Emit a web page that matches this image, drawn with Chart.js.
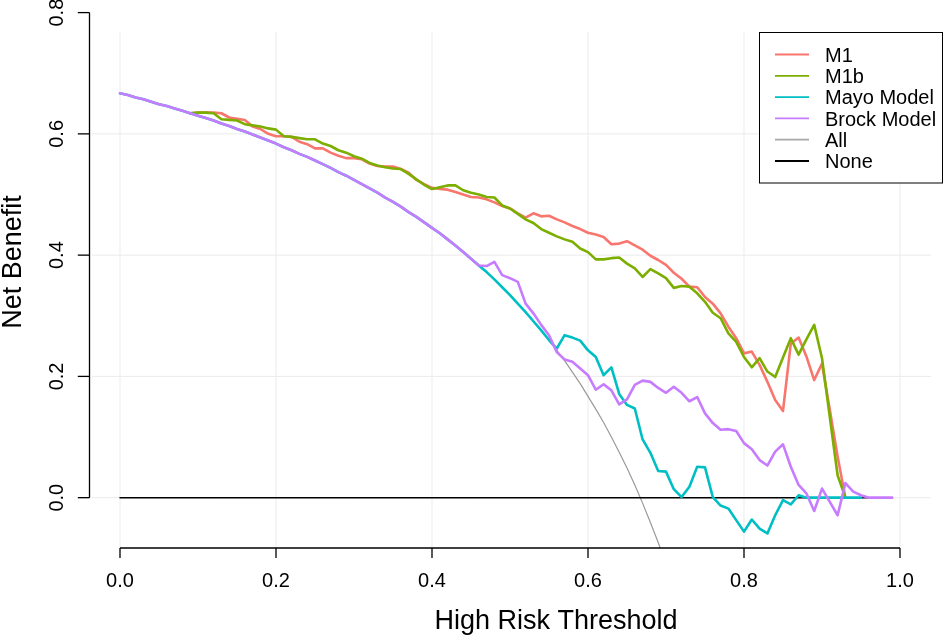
<!DOCTYPE html>
<html>
<head>
<meta charset="utf-8">
<style>
  html, body { margin: 0; padding: 0; background: #fff; }
  #wrap { width: 945px; height: 636px; }
</style>
</head>
<body>
<div id="wrap"><canvas id="dca" width="945" height="636"></canvas></div>
<script src="https://cdn.jsdelivr.net/npm/chart.js@4/dist/chart.umd.min.js"></script>
<script>
// thresholds (x) every 0.01
const thresholds = [
  0.00,0.01,0.02,0.03,0.04,0.05,0.06,0.07,0.08,0.09,
  0.10,0.11,0.12,0.13,0.14,0.15,0.16,0.17,0.18,0.19,
  0.20,0.21,0.22,0.23,0.24,0.25,0.26,0.27,0.28,0.29,
  0.30,0.31,0.32,0.33,0.34,0.35,0.36,0.37,0.38,0.39,
  0.40,0.41,0.42,0.43,0.44,0.45,0.46,0.47,0.48,0.49,
  0.50,0.51,0.52,0.53,0.54,0.55,0.56,0.57,0.58,0.59,
  0.60,0.61,0.62,0.63,0.64,0.65,0.66,0.67,0.68,0.69,
  0.70,0.71,0.72,0.73,0.74,0.75,0.76,0.77,0.78,0.79,
  0.80,0.81,0.82,0.83,0.84,0.85,0.86,0.87,0.88,0.89,
  0.90,0.91,0.92,0.93,0.94,0.95,0.96,0.97,0.98,0.99
];

const m1 = [
  null,null,null,null,null,null,null,null,null,0.634,
  0.635,0.635,0.635,0.634,0.627,0.625,0.623,0.612,0.608,0.600,
  0.596,0.596,0.595,0.587,0.583,0.576,0.576,0.569,0.564,0.560,
  0.560,0.558,0.551,0.547,0.546,0.546,0.542,0.536,0.524,0.517,
  0.511,0.509,0.508,0.504,0.500,0.496,0.495,0.492,0.487,0.481,
  0.477,0.469,0.462,0.469,0.464,0.465,0.459,0.454,0.448,0.443,
  0.437,0.434,0.430,0.418,0.419,0.423,0.416,0.409,0.399,0.392,
  0.384,0.371,0.361,0.348,0.347,0.331,0.320,0.304,0.282,0.263,
  0.238,0.241,0.219,0.191,0.161,0.143,0.254,0.264,0.233,0.194,
  0.221,0.145,0.068,0.000,null,null,null,null,null,null
];

const m1b = [
  null,null,null,null,null,null,null,null,null,0.634,
  0.635,0.635,0.634,0.624,0.623,0.622,0.616,0.614,0.612,0.609,
  0.607,0.596,0.595,0.593,0.591,0.591,0.584,0.580,0.573,0.569,
  0.563,0.559,0.552,0.548,0.545,0.543,0.542,0.534,0.525,0.516,
  0.509,0.512,0.515,0.515,0.507,0.503,0.500,0.496,0.495,0.482,
  0.477,0.468,0.459,0.453,0.443,0.437,0.431,0.426,0.422,0.411,
  0.405,0.393,0.393,0.395,0.396,0.386,0.378,0.364,0.377,0.370,
  0.362,0.346,0.349,0.348,0.337,0.323,0.305,0.296,0.271,0.257,
  0.232,0.215,0.230,0.208,0.199,0.231,0.263,0.236,0.261,0.285,
  0.230,0.133,0.037,0.000,null,null,null,null,null,null
];

const mayo = [
  0.667,0.664,0.660,0.657,0.653,0.649,0.646,0.642,0.638,0.634,
  0.630,0.626,0.622,0.617,0.613,0.608,0.604,0.599,0.594,0.589,
  0.584,0.578,0.573,0.567,0.562,0.556,0.550,0.544,0.537,0.531,
  0.524,0.517,0.510,0.503,0.495,0.488,0.480,0.471,0.463,0.454,
  0.445,0.436,0.426,0.416,0.405,0.394,0.383,0.372,0.360,0.347,
  0.334,0.320,0.306,0.291,0.276,0.260,0.246,0.268,0.264,0.259,
  0.243,0.232,0.202,0.215,0.171,0.153,0.147,0.096,0.074,0.044,
  0.043,0.014,0.001,0.018,0.051,0.050,0.001,-0.013,-0.018,-0.037,
  -0.056,-0.036,-0.051,-0.059,-0.029,-0.004,-0.011,0.004,0.000,0.000,
  0.000,0.000,0.000,0.000,0.000,0.000,null,null,null,null
];

const brock = [
  0.667,0.664,0.660,0.657,0.653,0.649,0.646,0.642,0.638,0.634,
  0.630,0.626,0.622,0.617,0.613,0.608,0.604,0.599,0.594,0.589,
  0.584,0.578,0.573,0.567,0.562,0.556,0.550,0.544,0.537,0.531,
  0.524,0.517,0.510,0.503,0.495,0.488,0.480,0.471,0.463,0.454,
  0.445,0.436,0.426,0.416,0.405,0.394,0.383,0.382,0.389,0.367,
  0.362,0.356,0.320,0.304,0.285,0.268,0.240,0.228,0.224,0.213,
  0.202,0.178,0.187,0.177,0.154,0.162,0.186,0.193,0.191,0.181,
  0.173,0.183,0.173,0.159,0.166,0.139,0.123,0.112,0.113,0.110,
  0.090,0.080,0.062,0.053,0.076,0.088,0.051,0.021,0.007,-0.022,
  0.015,-0.007,-0.029,0.024,0.010,0.004,0.000,0.000,0.000,0.000
];

const treatAll = [
  0.667,0.664,0.660,0.657,0.653,0.649,0.646,0.642,0.638,0.634,
  0.630,0.626,0.622,0.617,0.613,0.608,0.604,0.599,0.594,0.589,
  0.584,0.578,0.573,0.567,0.562,0.556,0.550,0.544,0.537,0.531,
  0.524,0.517,0.510,0.503,0.495,0.488,0.480,0.471,0.463,0.454,
  0.445,0.436,0.426,0.416,0.405,0.394,0.383,0.372,0.360,0.347,
  0.334,0.320,0.306,0.291,0.276,0.260,0.243,0.226,0.207,0.188,
  0.167,0.146,0.124,0.100,0.075,0.049,0.021,-0.009,-0.041,-0.074,
  -0.110,null,null,null,null,null,null,null,null,null,
  null,null,null,null,null,null,null,null,null,null,
  null,null,null,null,null,null,null,null,null,null
];

const treatNone = [
  0,0,0,0,0,0,0,0,0,0, 0,0,0,0,0,0,0,0,0,0,
  0,0,0,0,0,0,0,0,0,0, 0,0,0,0,0,0,0,0,0,0,
  0,0,0,0,0,0,0,0,0,0, 0,0,0,0,0,0,0,0,0,0,
  0,0,0,0,0,0,0,0,0,0, 0,0,0,0,0,0,0,0,0,0,
  0,0,0,0,0,0,0,0,0,0, 0,0,0,0,0,0,0,0,0,0
];

const xTicks = [0.0, 0.2, 0.4, 0.6, 0.8, 1.0];
const yTicks = [0.0, 0.2, 0.4, 0.6, 0.8];
const legendNames = ['M1', 'M1b', 'Mayo Model', 'Brock Model', 'All', 'None'];
const legendColors = ['#F8766D', '#7CAE00', '#00BFC4', '#C77CFF', '#A8A8A8', '#000000'];

function pts(vals) {
  return thresholds.map((t, i) => ({ x: t, y: vals[i] }));
}

const FONT = "'Liberation Sans', Arial, Helvetica, sans-serif";

// base-R style frame: grid, axes, labels, legend
const rPlot = {
  id: 'rPlot',
  beforeDatasetsDraw(chart) {
    const { ctx, chartArea: a, scales: { x, y } } = chart;
    ctx.save();
    ctx.strokeStyle = '#EBEBEB';
    ctx.lineWidth = 1;
    xTicks.forEach(v => {
      const px = x.getPixelForValue(v);
      ctx.beginPath(); ctx.moveTo(px, a.top); ctx.lineTo(px, a.bottom); ctx.stroke();
    });
    yTicks.forEach(v => {
      const py = y.getPixelForValue(v);
      if (py < a.top) return;
      ctx.beginPath(); ctx.moveTo(a.left + 3, py); ctx.lineTo(a.right, py); ctx.stroke();
    });
    ctx.restore();
  },
  afterDraw(chart) {
    const { ctx, chartArea: a, scales: { x, y } } = chart;
    ctx.save();
    ctx.strokeStyle = '#000';
    ctx.fillStyle = '#000';
    ctx.lineWidth = 1.3;

    // x axis
    const x0 = x.getPixelForValue(xTicks[0]);
    const x1 = x.getPixelForValue(xTicks[xTicks.length - 1]);
    ctx.beginPath(); ctx.moveTo(x0, a.bottom); ctx.lineTo(x1, a.bottom); ctx.stroke();
    ctx.font = '20px ' + FONT;
    ctx.textAlign = 'center';
    ctx.textBaseline = 'alphabetic';
    xTicks.forEach(v => {
      const px = x.getPixelForValue(v);
      ctx.beginPath(); ctx.moveTo(px, a.bottom); ctx.lineTo(px, a.bottom + 10); ctx.stroke();
      ctx.fillText(v.toFixed(1), px, 587);
    });

    // y axis
    const y0 = y.getPixelForValue(yTicks[0]);
    const y1 = y.getPixelForValue(yTicks[yTicks.length - 1]);
    ctx.beginPath(); ctx.moveTo(a.left + 0.7, y0); ctx.lineTo(a.left + 0.7, y1); ctx.stroke();
    yTicks.forEach(v => {
      const py = y.getPixelForValue(v);
      ctx.beginPath(); ctx.moveTo(a.left + 0.7, py); ctx.lineTo(a.left - 11, py); ctx.stroke();
      ctx.save();
      ctx.translate(62.5, py);
      ctx.rotate(-Math.PI / 2);
      ctx.fillText(v.toFixed(1), 0, 0);
      ctx.restore();
    });

    // axis titles
    ctx.font = '27px ' + FONT;
    ctx.fillText('High Risk Threshold', 556, 629);
    ctx.save();
    ctx.translate(21, 262);
    ctx.rotate(-Math.PI / 2);
    ctx.fillText('Net Benefit', 0, 0);
    ctx.restore();

    // legend
    const bx = 759.5, by = 32.5, bw = 183, bh = 150.5;
    ctx.fillStyle = '#fff';
    ctx.fillRect(bx, by, bw, bh);
    ctx.lineWidth = 1;
    ctx.strokeStyle = '#000';
    ctx.strokeRect(bx, by, bw, bh);
    ctx.font = '20px ' + FONT;
    ctx.textAlign = 'left';
    legendNames.forEach((name, i) => {
      const cy = 54.5 + i * 21.3;
      ctx.strokeStyle = legendColors[i];
      ctx.lineWidth = 1.8;
      ctx.beginPath(); ctx.moveTo(775, cy); ctx.lineTo(809, cy); ctx.stroke();
      ctx.fillStyle = '#000';
      ctx.fillText(name, 825, cy + 7.2);
    });
    ctx.restore();
  }
};

new Chart(document.getElementById('dca'), {
  type: 'line',
  data: {
    datasets: [
      { label: 'M1', data: pts(m1), borderColor: legendColors[0], borderWidth: 2.6, order: 3 },
      { label: 'M1b', data: pts(m1b), borderColor: legendColors[1], borderWidth: 2.6, order: 2 },
      { label: 'Mayo Model', data: pts(mayo), borderColor: legendColors[2], borderWidth: 2.6, order: 1 },
      { label: 'Brock Model', data: pts(brock), borderColor: legendColors[3], borderWidth: 2.6, order: 0 },
      { label: 'All', data: pts(treatAll), borderColor: '#9A9A9A', borderWidth: 1.2, order: 5 },
      { label: 'None', data: pts(treatNone), borderColor: '#000', borderWidth: 1.5, order: 4 }
    ]
  },
  options: {
    responsive: false,
    animation: false,
    devicePixelRatio: 1,
    layout: { padding: { left: 88.8, right: 13.8, top: 32, bottom: 88 } },
    elements: {
      point: { radius: 0, hoverRadius: 0 },
      line: { tension: 0, fill: false, borderCapStyle: 'round', borderJoinStyle: 'round' }
    },
    spanGaps: false,
    plugins: { legend: { display: false }, tooltip: { enabled: false } },
    scales: {
      x: { type: 'linear', min: -0.04, max: 1.04, display: false },
      y: { type: 'linear', min: -0.083, max: 0.768, display: false }
    }
  },
  plugins: [rPlot]
});
</script>
</body>
</html>
